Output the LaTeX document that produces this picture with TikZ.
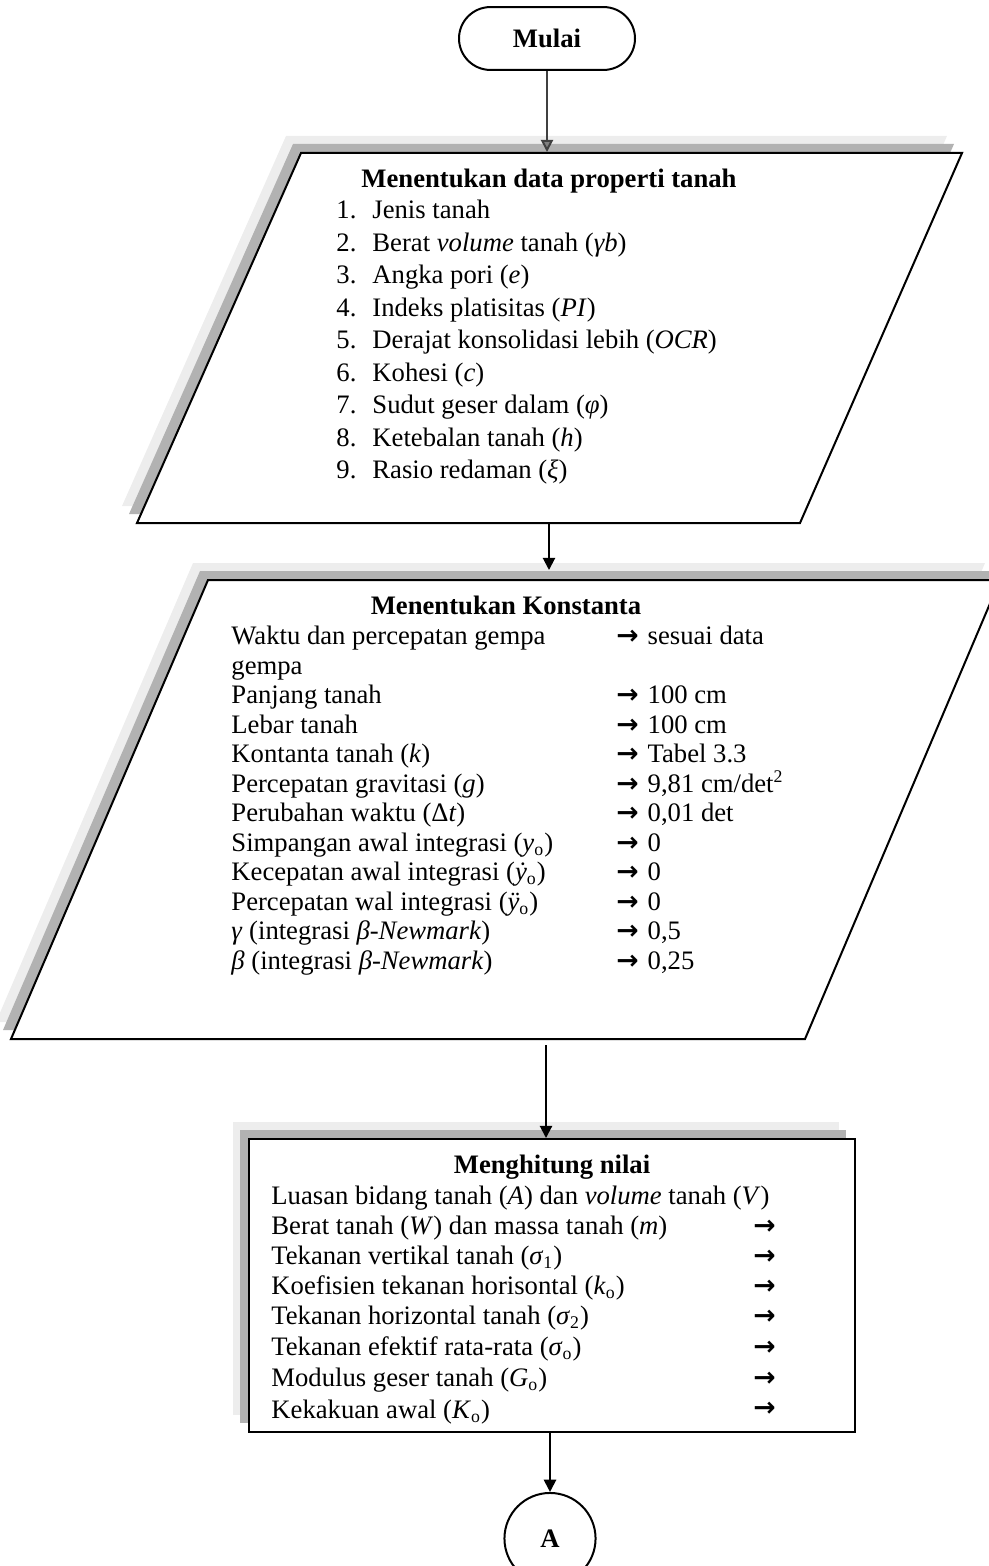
\documentclass[tikz,border=0pt]{standalone}
\usepackage{fontspec}
\setmainfont{Liberation Serif}
\newfontfamily\arwf{DejaVu Sans}
\usetikzlibrary{arrows.meta,shapes.misc}
\tikzset{
  txt/.style={anchor=west, inner sep=0pt, text height=9pt, text depth=3pt, font=\fontsize{12}{13.8}\selectfont},
  hd/.style={inner sep=0pt, text height=9pt, text depth=3pt, font=\fontsize{12}{13.8}\selectfont\bfseries},
  outline/.style={draw=black, line width=0.9pt, fill=white},
  shd/.style={fill=black!30},
  shdlight/.style={fill=black!7},
  conn/.style={-{Triangle[length=5.5pt,width=5.5pt]}, line width=0.9pt},
  term/.style={draw, line width=0.9pt, rounded rectangle, minimum width=79.2pt, minimum height=28.3pt, inner sep=0pt, font=\fontsize{12}{13.8}\selectfont\bfseries},
  conn2/.style={draw, circle, line width=0.9pt, minimum size=41pt, inner sep=0pt, font=\fontsize{12}{13.8}\selectfont\bfseries},
}
\newcommand{\arglyph}{{\arwf\bfseries →}}
\newcommand{\ar}{\arglyph\hspace{4pt}}
\newcommand{\num}[1]{\makebox[16.2pt][l]{#1}}
\begin{document}
\begin{tikzpicture}[x=0.45pt,y=-0.45pt]
\useasboundingbox (0,0) rectangle (988,1566);

% ---------- start terminator
\node[term] (start) at (547,38.5) {Mulai};

% ---------- parallelogram 1
\fill[shdlight, shift={(-15,-17)}] (301,153) -- (962,153) -- (800,523) -- (137,523) -- cycle;
\fill[shd, shift={(-8,-9)}] (301,153) -- (962,153) -- (800,523) -- (137,523) -- cycle;
\draw[outline] (301,153) -- (962,153) -- (800,523) -- (137,523) -- cycle;
\coordinate (p1in) at (547,152);
\coordinate (p1out) at (549,523);

\node[hd] (h1) at (549,181) {Menentukan data properti tanah};
\node[txt] (i1) at (336,212) {\num{1.}Jenis tanah};
\node[txt] (i2) at (336,244.5) {\num{2.}Berat \textit{volume} tanah (\textit{γb})};
\node[txt] (i3) at (336,277) {\num{3.}Angka pori (\textit{e})};
\node[txt] (i4) at (336,309.5) {\num{4.}Indeks platisitas (\textit{PI})};
\node[txt] (i5) at (336,342) {\num{5.}Derajat konsolidasi lebih (\textit{OCR})};
\node[txt] (i6) at (336,374.5) {\num{6.}Kohesi (\textit{c})};
\node[txt] (i7) at (336,407) {\num{7.}Sudut geser dalam (\textit{φ})};
\node[txt] (i8) at (336,439.5) {\num{8.}Ketebalan tanah (\textit{h})};
\node[txt] (i9) at (336,472) {\num{9.}Rasio redaman (\textit{ξ})};

% ---------- parallelogram 2
\fill[shdlight, shift={(-15,-17)}] (208,580) -- (1000,580) -- (805,1039) -- (11,1039) -- cycle;
\fill[shd, shift={(-8,-9)}] (208,580) -- (1000,580) -- (805,1039) -- (11,1039) -- cycle;
\draw[outline] (208,580) -- (1000,580) -- (805,1039) -- (11,1039) -- cycle;
\coordinate (p2in) at (549,570);
\coordinate (p2out) at (546,1045);

\node[hd] (h2) at (506,608) {Menentukan Konstanta};
\node[txt] (k1) at (231,638) {Waktu dan percepatan gempa};
\node[txt] (v1) at (616,638) {\ar sesuai data};
\node[txt] (k2) at (231,667.5) {gempa};
\node[txt] (k3) at (231,697) {Panjang tanah};
\node[txt] (v3) at (616,697) {\ar 100 cm};
\node[txt] (k4) at (231,726.5) {Lebar tanah};
\node[txt] (v4) at (616,726.5) {\ar 100 cm};
\node[txt] (k5) at (231,756) {Kontanta tanah (\textit{k})};
\node[txt] (v5) at (616,756) {\ar Tabel 3.3};
\node[txt] (k6) at (231,785.5) {Percepatan gravitasi (\textit{g})};
\node[txt] (v6) at (616,785.5) {\ar 9,81 cm/det\textsuperscript{2}};
\node[txt] (k7) at (231,815) {Perubahan waktu (Δ\textit{t})};
\node[txt] (v7) at (616,815) {\ar 0,01 det};
\node[txt] (k8) at (231,844.5) {Simpangan awal integrasi (\textit{y}\textsubscript{o})};
\node[txt] (v8) at (616,844.5) {\ar 0};
\node[txt] (k9) at (231,874) {Kecepatan awal integrasi (\textit{ẏ}\textsubscript{o})};
\node[txt] (v9) at (616,874) {\ar 0};
\node[txt] (k10) at (231,903.5) {Percepatan wal integrasi (\textit{ÿ}\textsubscript{o})};
\node[txt] (v10) at (616,903.5) {\ar 0};
\node[txt] (k11) at (231,933) {\textit{γ} (integrasi \textit{β-Newmark})};
\node[txt] (v11) at (616,933) {\ar 0,5};
\node[txt] (k12) at (231,962.5) {\textit{β} (integrasi \textit{β-Newmark})};
\node[txt] (v12) at (616,962.5) {\ar 0,25};

% ---------- box 3
\fill[shdlight, shift={(-16,-17)}] (249,1139) rectangle (855,1432);
\fill[shd, shift={(-9,-9)}] (249,1139) rectangle (855,1432);
\fill[white] (249,1139) rectangle (855,1432);
\coordinate (b3in) at (546,1138);
\coordinate (b3out) at (550,1432);
\begin{scope}
\clip (249,1139) rectangle (855,1423);
\node[hd] (h3) at (552,1167) {Menghitung nilai};
\node[txt] (m1) at (271,1198) {Luasan bidang tanah (\textit{A}) dan \textit{volume} tanah (\textit{V})};
\node[txt] (m2) at (271,1228) {Berat tanah (\textit{W}) dan massa tanah (\textit{m})};
\node[txt] (a2) at (753,1228) {\arglyph};
\node[txt] (m3) at (271,1258) {Tekanan vertikal tanah (\textit{σ}\textsubscript{1})};
\node[txt] (a3) at (753,1258) {\arglyph};
\node[txt] (m4) at (271,1288) {Koefisien tekanan horisontal (\textit{k}\textsubscript{o})};
\node[txt] (a4) at (753,1288) {\arglyph};
\node[txt] (m5) at (271,1318) {Tekanan horizontal tanah (\textit{σ}\textsubscript{2})};
\node[txt] (a5) at (753,1318) {\arglyph};
\node[txt] (m6) at (271,1349) {Tekanan efektif rata-rata (\textit{σ}\textsubscript{o})};
\node[txt] (a6) at (753,1349) {\arglyph};
\node[txt] (m7) at (271,1380) {Modulus geser tanah (\textit{G}\textsubscript{o})};
\node[txt] (a7) at (753,1380) {\arglyph};
\node[txt] (m8) at (271,1412) {Kekakuan awal (\textit{K}\textsubscript{o})};
\node[txt] (a8) at (753,1410) {\arglyph};
\end{scope}
\draw[draw=black, line width=0.9pt] (249,1139) rectangle (855,1432);

% ---------- connector A
\node[conn2] (A) at (550,1538.5) {A};

% ---------- connectors
\draw[line width=0.9pt, draw=black!75, -{Triangle[length=5.5pt,width=5.5pt,fill=black!50]}] (start.south) -- (p1in);
\draw[conn] (p1out) -- (p2in);
\draw[conn] (p2out) -- (b3in);
\draw[conn] (b3out) -- (A.north);
\end{tikzpicture}
\end{document}
